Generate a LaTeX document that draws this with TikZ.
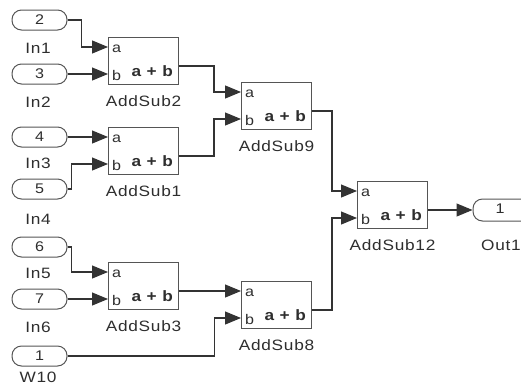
\documentclass[tikz,border=0pt]{standalone}
\usepackage{fontspec}
\setmainfont{Liberation Sans}[FakeStretch=1.15,LetterSpace=5]
\usetikzlibrary{arrows.meta,calc}
\definecolor{wirec}{HTML}{333333}
\definecolor{boxc}{HTML}{555555}
\definecolor{txtc}{HTML}{2E2E2E}
\newcommand\asblock[4]{%
  \node[blk] (#1) at (#2,#3) {};
  \node[pinlbl,anchor=base west] (#1-ta) at ([shift={(4pt,-15pt)}]#1.north west) {a};
  \node[pinlbl,anchor=base west] (#1-tb) at ([shift={(4pt,-43pt)}]#1.north west) {b};
  \node[sumtxt,anchor=base east] (#1-t) at ([shift={(-6pt,-39pt)}]#1.north east) {a + b};
  \node[lbl] (#1-l) at ([yshift=-16pt]#1.south) {#4};
  \coordinate (#1-a) at ([yshift=-10pt]#1.north west);
  \coordinate (#1-b) at ([yshift=-37pt]#1.north west);
  \coordinate (#1-o) at ([yshift=-29pt]#1.north east);
}
\begin{document}
\begin{tikzpicture}[x=1pt,y=-1pt,
  wire/.style={draw=wirec,line width=1.1pt},
  arr/.style={wire,-{Triangle[length=16pt,width=13pt]}},
  inport/.style={draw=boxc,line width=1pt,rounded corners=9.5pt,minimum width=55pt,minimum height=20pt,inner sep=0pt,text=txtc,font=\fontsize{14}{14}\selectfont},
  blk/.style={draw=boxc,line width=1pt,minimum width=70pt,minimum height=47pt,inner sep=0pt,anchor=north west},
  lbl/.style={font=\fontsize{15}{15}\selectfont,text=txtc,inner sep=0pt},
  pinlbl/.style={font=\fontsize{14}{14}\selectfont,text=txtc,inner sep=0pt},
  sumtxt/.style={font=\fontsize{15}{15}\selectfont\bfseries,text=txtc,inner sep=0pt}
]
\clip (0,0) rectangle (521,386);
\fill[white] (0,0) rectangle (521,386);

% input ports
\node[inport] (p1) at (39.5,20) {2};
\node[inport] (p2) at (39.5,74) {3};
\node[inport] (p3) at (39.5,137) {4};
\node[inport] (p4) at (39.5,189) {5};
\node[inport] (p5) at (39.5,247) {6};
\node[inport] (p6) at (39.5,299) {7};
\node[inport] (p7) at (39.5,356) {1};
\node[lbl] (l1) at (38,48) {In1};
\node[lbl] (l2) at (38,102) {In2};
\node[lbl] (l3) at (38,163) {In3};
\node[lbl] (l4) at (38,219) {In4};
\node[lbl] (l5) at (38,273) {In5};
\node[lbl] (l6) at (38,327) {In6};
\node[lbl] (l7) at (38,377) {W10};

% blocks
\asblock{s2}{108}{37}{AddSub2}
\asblock{s1}{108}{127}{AddSub1}
\asblock{s3}{108}{262}{AddSub3}
\asblock{s9}{241}{82}{AddSub9}
\asblock{s8}{241}{281}{AddSub8}
\asblock{s12}{357}{181}{AddSub12}

% output port
\node[draw=boxc,line width=1pt,rounded corners=9.5pt,minimum width=80pt,minimum height=22pt,inner sep=0pt] (o1) at (513,210) {};
\node[pinlbl] (o1t) at (500,209) {1};
\node[lbl] (o1l) at (501,245) {Out1};

% wires
\draw[arr] (p1.east) -- ++(14,0) |- (s2-a);
\draw[arr] (p2.east) -- (s2-b);
\draw[arr] (p3.east) -- (s1-a);
\draw[arr] (p4.east) -- ++(4,0) |- (s1-b);
\draw[arr] (p5.east) -- ++(4,0) |- (s3-a);
\draw[arr] (p6.east) -- (s3-b);
\draw[arr] (p7.east) -- ++(147,0) |- (s8-b);
\draw[arr] (s2-o) -- ++(35,0) |- (s9-a);
\draw[arr] (s1-o) -- ++(35,0) |- (s9-b);
\draw[arr] (s3-o) -- (s8-a);
\draw[arr] (s9-o) -- ++(20,0) |- (s12-a);
\draw[arr] (s8-o) -- ++(20,0) |- (s12-b);
\draw[arr] (s12-o) -- (o1.west);
\end{tikzpicture}
\end{document}
